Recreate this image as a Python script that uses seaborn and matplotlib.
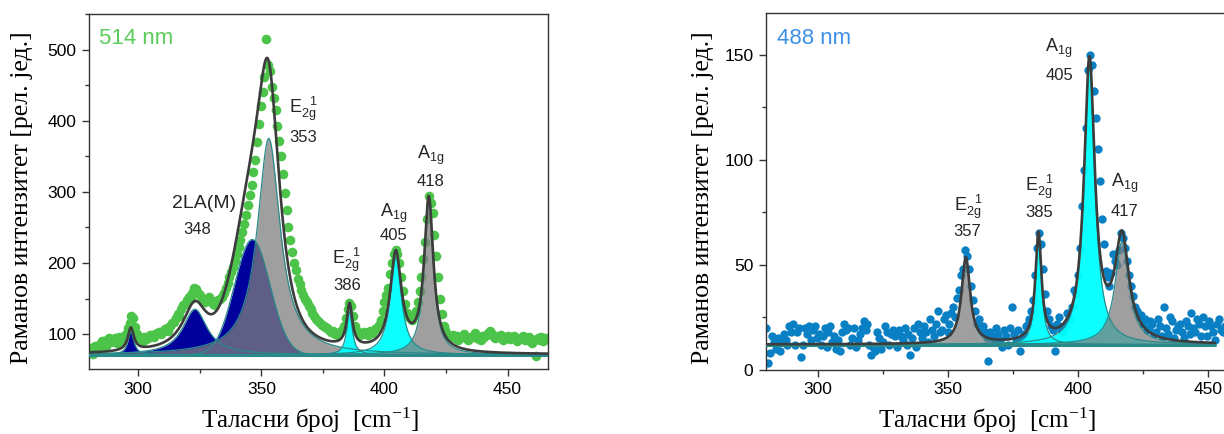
import numpy as np
import pandas as pd
import matplotlib
matplotlib.use("Agg")
import matplotlib.pyplot as plt
from matplotlib.ticker import AutoMinorLocator, FixedLocator
import seaborn as sns

# ---------------- data ----------------
shift_start = 280.0
shift_step = 0.75

intensity_514 = [76, 80, 72, 84, 80, 78, 86, 91, 90, 84, 92, 95, 89, 92, 95, 88, 96, 91, 93, 97,
                 100, 108, 115, 126, 122, 110, 100, 96, 93, 90, 96, 93, 95, 99, 98, 96, 100, 102,
                 103, 100, 104, 107, 108, 105, 112, 115, 117, 122, 128, 126, 135, 141, 143, 148,
                 152, 150, 158, 165, 163, 158, 155, 150, 148, 145, 150, 152, 146, 143, 141, 146,
                 148, 150, 152, 158, 165, 172, 180, 188, 195, 203, 212, 222, 232, 243, 255, 268,
                 282, 296, 310, 328, 345, 370, 395, 420, 440, 462, 515, 478, 470, 448, 432, 415,
                 392, 372, 350, 325, 298, 275, 250, 232, 215, 200, 190, 178, 170, 162, 155, 150,
                 145, 140, 135, 130, 125, 121, 118, 115, 113, 111, 110, 108, 106, 103, 104, 100,
                 102, 99, 103, 106, 112, 122, 135, 144, 140, 125, 112, 105, 102, 99, 100, 103,
                 102, 99, 104, 101, 104, 107, 108, 113, 120, 132, 145, 155, 165, 185, 200, 212,
                 218, 212, 200, 180, 160, 142, 130, 124, 122, 120, 125, 132, 145, 160, 180, 205,
                 230, 262, 294, 285, 270, 240, 210, 180, 150, 128, 112, 106, 100, 98, 96, 99, 95,
                 97, 92, 95, 97, 100, 95, 92, 93, 96, 98, 101, 95, 93, 92, 97, 96, 99, 102, 104,
                 100, 97, 94, 96, 97, 99, 92, 95, 95, 98, 93, 96, 97, 94, 90, 93, 94, 97, 92, 95,
                 96, 91, 88, 92, 69, 94, 92, 96, 90, 94, 93]

intensity_488 = [20, 3, 8, 16, 13, 10, 15, 9, 13, 17, 14, 12, 21, 18, 22, 12, 18, 20, 6, 12,
                 20, 17, 21, 14, 19, 21, 15, 17, 12, 16, 20, 11, 18, 21, 13, 16, 10, 14, 9, 18,
                 22, 19, 20, 12, 15, 20, 11, 14, 17, 20, 23, 19, 22, 12, 7, 11, 9, 18, 15, 10,
                 13, 21, 18, 12, 17, 19, 16, 11, 19, 16, 14, 20, 12, 17, 7, 15, 20, 11, 22, 18,
                 15, 21, 18, 13, 24, 19, 16, 22, 28, 18, 19, 24, 26, 18, 22, 27, 30, 25, 34, 38,
                 45, 48, 57, 54, 48, 40, 33, 28, 22, 24, 19, 21, 18, 15, 4, 18, 16, 13, 20, 17,
                 14, 11, 19, 16, 12, 20, 30, 17, 13, 19, 9, 15, 17, 21, 22, 24, 28, 33, 45, 58,
                 65, 60, 48, 36, 28, 24, 21, 19, 9, 22, 25, 19, 18, 21, 27, 24, 24, 30, 38, 36,
                 45, 58, 78, 95, 115, 143, 150, 145, 133, 120, 105, 90, 72, 60, 47, 44, 40, 46,
                 55, 52, 50, 57, 65, 63, 58, 52, 45, 40, 35, 30, 28, 25, 26, 22, 24, 19, 20, 23,
                 22, 17, 18, 24, 21, 16, 30, 20, 17, 25, 23, 15, 19, 21, 22, 18, 15, 23, 21, 17,
                 27, 20, 18, 24, 22, 16, 25, 21, 16, 23, 21, 18, 14, 22, 24, 19, 18, 21, 20, 16,
                 15, 22, 22, 18, 17, 20, 21, 17, 19]

# fitted components (centre, height above baseline, FWHM, profile)
peak_pos_514 = [297.0, 323.0, 346.3, 353.0, 385.8, 404.6, 418.0]
peak_amp_514 = [32, 64, 162, 304, 60, 137, 215]
peak_fwhm_514 = [3.0, 12.0, 17.0, 11.2, 2.8, 5.5, 4.5]
peak_shape_514 = ["L", "L", "G", "L", "L", "L", "L"]
peak_kind_514 = ["navy", "navy", "navy", "gray", "cyan", "cyan", "gray"]
baseline_514 = 71

peak_pos_488 = [356.8, 384.7, 404.3, 416.8]
peak_amp_488 = [41, 51, 134, 49]
peak_fwhm_488 = [4.0, 2.8, 5.0, 6.5]
peak_shape_488 = ["L", "L", "L", "L"]
peak_kind_488 = ["gray", "cyan", "cyan", "gray"]
baseline_488 = 12

E2G = r"E$_{2g}^{\ \ 1}$"
A1G = r"A$_{1g}$"
label_names_514 = ["2LA(M)", E2G, E2G, A1G, A1G]
label_nums_514 = ["348", "353", "386", "405", "418"]
label_names_488 = [E2G, E2G, A1G, A1G]
label_nums_488 = ["357", "385", "405", "417"]

xticks = [300, 350, 400, 450]
yticks_514 = [100, 200, 300, 400, 500]
yticks_488 = [0, 50, 100, 150]

# ---------------- style ----------------
sns.set_style("ticks")
plt.rcParams["font.family"] = ["Liberation Sans", "DejaVu Sans"]
plt.rcParams["mathtext.default"] = "regular"

fill_colors = {"navy": ("#00009c", 1.0), "gray": ("#7f7f7f", 0.75), "cyan": ("#00ffff", 0.95)}
edge_color = "#2a8a8a"
fit_color = "#3c3c3c"


def profile(x, pos, amp, fwhm, shape):
    if shape == "G":
        s = fwhm / 2.3548
        return amp * np.exp(-(x - pos) ** 2 / (2 * s * s))
    hw = fwhm / 2.0
    return amp / (1 + ((x - pos) / hw) ** 2)


def draw_panel(ax, intensity, pos, amp, fwhm, shape, kind, base, point_color, size,
               fit_end, xlim, ylim):
    xs = shift_start + shift_step * np.arange(len(intensity))
    df = pd.DataFrame({"x": xs, "y": intensity})
    sns.scatterplot(data=df, x="x", y="y", ax=ax, color=point_color, s=size,
                    linewidth=0, zorder=2, legend=False)
    grid = np.linspace(xlim[0], fit_end, 2500)
    total = np.full_like(grid, float(base))
    for p, a, w, sh, k in zip(pos, amp, fwhm, shape, kind):
        comp = profile(grid, p, a, w, sh)
        total += comp
        c, al = fill_colors[k]
        ax.fill_between(grid, base, base + comp, color=c, alpha=al, linewidth=0, zorder=3)
        ax.plot(grid, base + comp, color=edge_color, lw=0.9, zorder=3.5)
    ax.plot([xlim[0], fit_end], [base, base], color=edge_color, lw=2.2, zorder=3.6)
    fit_df = pd.DataFrame({"x": grid, "y": total})
    sns.lineplot(data=fit_df, x="x", y="y", ax=ax, color=fit_color, lw=1.9, zorder=5,
                 estimator=None, sort=False)
    ax.set_xlim(*xlim)
    ax.set_ylim(*ylim)


fig = plt.figure(figsize=(12.24, 4.34), dpi=100)
ax1 = fig.add_axes([89 / 1224, 65 / 434, 459 / 1224, 355 / 434])
ax2 = fig.add_axes([766 / 1224, 64.3 / 434, 484 / 1224, 356.7 / 434])

draw_panel(ax1, intensity_514, peak_pos_514, peak_amp_514, peak_fwhm_514, peak_shape_514,
           peak_kind_514, baseline_514, "#4cc44a", 48, 466.4, (280, 466.4), (51, 550))
draw_panel(ax2, intensity_488, peak_pos_488, peak_amp_488, peak_fwhm_488, peak_shape_488,
           peak_kind_488, baseline_488, "#0a80c4", 36, 452.6, (280, 466.0), (0, 170))

for ax, yt in ((ax1, yticks_514), (ax2, yticks_488)):
    ax.xaxis.set_major_locator(FixedLocator(xticks))
    ax.yaxis.set_major_locator(FixedLocator(yt))
    ax.xaxis.set_minor_locator(AutoMinorLocator(2))
    ax.yaxis.set_minor_locator(AutoMinorLocator(2))
    ax.tick_params(which="major", direction="out", length=5, width=1, labelsize=12.5,
                   color="#333333", labelcolor="black", pad=4)
    ax.tick_params(which="minor", direction="out", length=3, width=1, color="#333333")
    for sp in ax.spines.values():
        sp.set_visible(True)
        sp.set_color("#333333")
        sp.set_linewidth(1.0)
    ax.set_xlabel(r"Таласни број  [cm$^{-1}$]", family=["Liberation Serif"], fontsize=18,
                  color="black")
    ax.set_ylabel("Раманов интензитет [рел. јед.]", family=["Liberation Serif"], fontsize=18.5,
                  color="black")
    ax.xaxis.label.set_va("center")

ax1.xaxis.set_label_coords(0.481, -0.144)
ax1.yaxis.set_label_coords(-0.122, 0.483)
ax2.xaxis.set_label_coords(0.456, -0.141)
ax2.yaxis.set_label_coords(-0.107, 0.483)

# ---------------- annotations ----------------
ax1.text(284, 515.6, "514 nm", color="#5ccc5a", fontsize=16, ha="left", va="center")
ax2.text(284.2, 157.9, "488 nm", color="#3d90e6", fontsize=16, ha="left", va="center")

name_xy_514 = [(326.7, 276.7), (367.2, 410.8), (384.6, 199.2), (403.9, 265.0), (418.8, 346.8)]
num_xy_514 = [(323.8, 247.0), (366.9, 377.0), (384.7, 169.0), (403.5, 238.0), (418.5, 315.0)]
name_sizes_514 = [14, 13, 13, 13, 13]
for name, num, nxy, mxy, fs in zip(label_names_514, label_nums_514, name_xy_514, num_xy_514,
                                   name_sizes_514):
    ax1.text(nxy[0], nxy[1], name, fontsize=fs, ha="center", va="baseline", zorder=6)
    ax1.text(mxy[0], mxy[1], num, fontsize=12, ha="center", va="center", zorder=6)

name_xy_488 = [(357.6, 75.8), (384.9, 85.0), (392.6, 151.5), (418.0, 86.9)]
num_xy_488 = [(357.4, 65.9), (384.9, 75.0), (392.6, 140.4), (417.8, 75.3)]
for name, num, nxy, mxy in zip(label_names_488, label_nums_488, name_xy_488, num_xy_488):
    ax2.text(nxy[0], nxy[1], name, fontsize=13, ha="center", va="baseline", zorder=6)
    ax2.text(mxy[0], mxy[1], num, fontsize=12, ha="center", va="center", zorder=6)

fig.savefig("out.png", dpi=100)
